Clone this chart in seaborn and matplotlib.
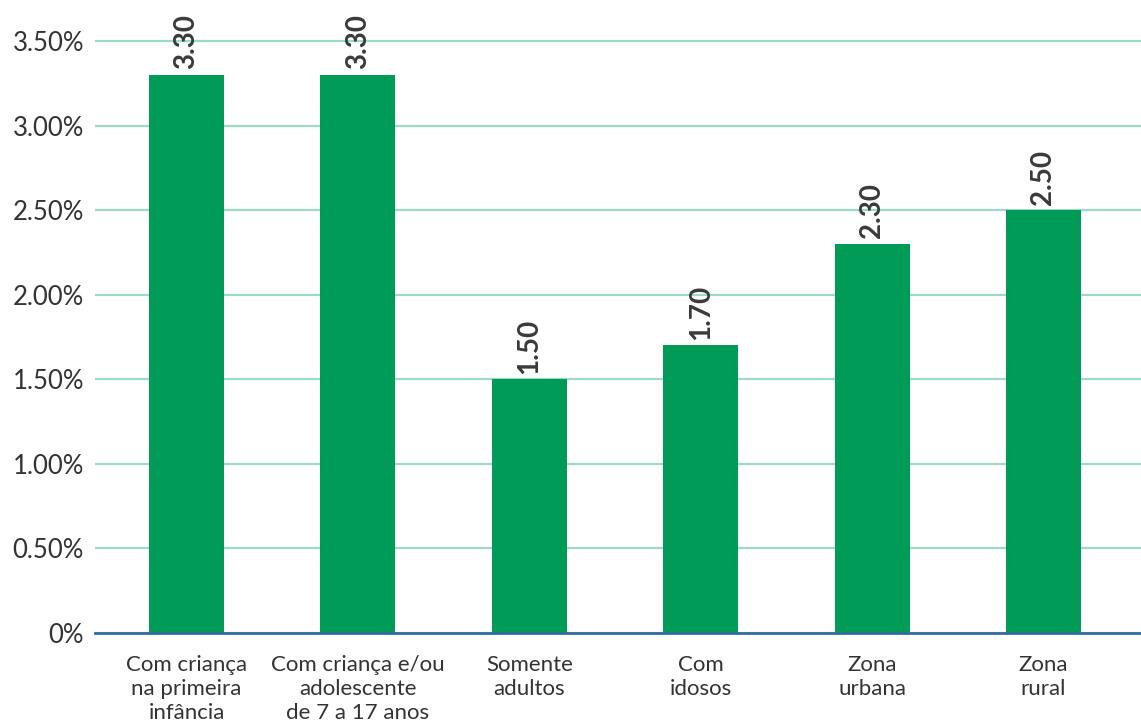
import matplotlib
matplotlib.use("Agg")
import matplotlib.pyplot as plt
import seaborn as sns
import pandas as pd

categories = [
    "Com criança\nna primeira\ninfância",
    "Com criança e/ou\nadolescente\nde 7 a 17 anos",
    "Somente\nadultos",
    "Com\nidosos",
    "Zona\nurbana",
    "Zona\nrural",
]
values = [3.30, 3.30, 1.50, 1.70, 2.30, 2.50]
y_ticks = [0, 0.5, 1.0, 1.5, 2.0, 2.5, 3.0, 3.5]
y_tick_labels = ["0%", "0.50%", "1.00%", "1.50%", "2.00%", "2.50%", "3.00%", "3.50%"]

sns.set_theme(style="white")
plt.rcParams["font.family"] = ["Lato", "DejaVu Sans"]

df = pd.DataFrame({"categoria": categories, "valor": values})

fig = plt.figure(figsize=(11.41, 7.24), dpi=100)
ax = fig.add_axes([0.0833, 0.1257, 0.9167, 0.8200])

sns.barplot(data=df, x="categoria", y="valor", color="#009C57",
            saturation=1, width=0.4375, linewidth=0, ax=ax, zorder=3)

ax.set_ylim(0, 3.51)
ax.set_xlim(-0.534, 5.569)
ax.set_yticks(y_ticks)
ax.set_yticklabels(y_tick_labels, fontsize=18.5, color="#333333")
ax.tick_params(axis="y", length=0, pad=8)
ax.tick_params(axis="x", length=0, pad=16)
for lbl in ax.get_xticklabels():
    lbl.set_fontsize(16)
    lbl.set_color("#333333")
    lbl.set_linespacing(1.25)
ax.set_xlabel("")
ax.set_ylabel("")

ax.grid(axis="y", color="#9ED9C9", linewidth=1.6, zorder=0)
ax.set_axisbelow(True)
for side in ["top", "right", "left"]:
    ax.spines[side].set_visible(False)
ax.spines["bottom"].set_color("#2E6E9E")
ax.spines["bottom"].set_linewidth(2)
ax.spines["bottom"].set_zorder(4)

for i, v in enumerate(values):
    ax.annotate(f"{v:.2f}", xy=(i, v), xytext=(0, 4), textcoords="offset points",
                rotation=90, ha="center", va="bottom", fontsize=20,
                fontweight="bold", color="#3A3A3A", clip_on=False)

fig.savefig("out.png", dpi=100)
